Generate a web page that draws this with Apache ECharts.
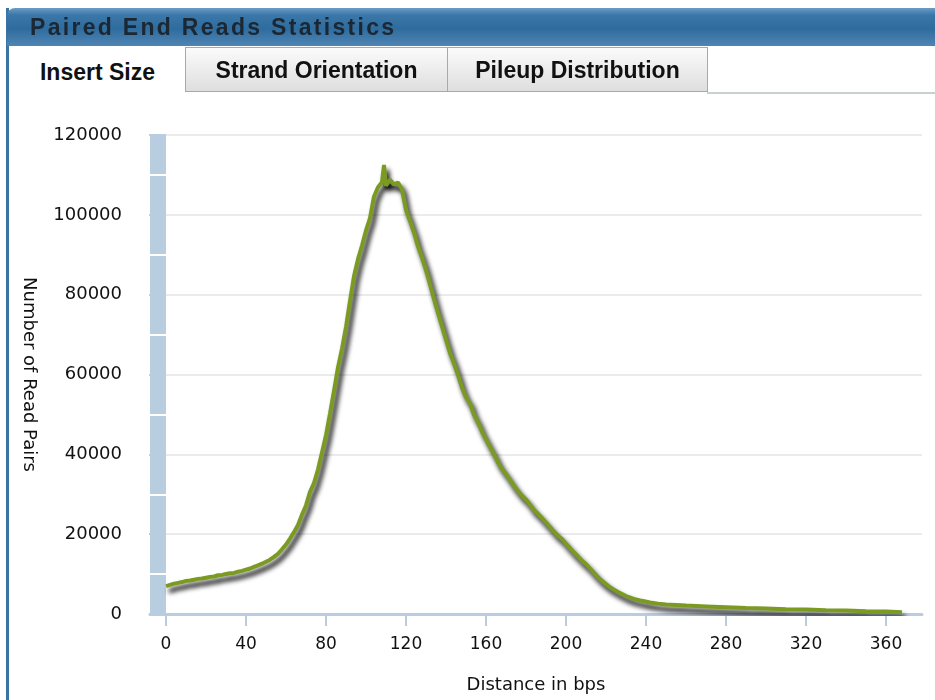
<!DOCTYPE html>
<html>
<head>
<meta charset="utf-8">
<title>Paired End Reads Statistics</title>
<script src="https://cdn.jsdelivr.net/npm/echarts@6.0.0/dist/echarts.min.js"></script>
<style>
  body { margin: 0; background: #fff; }
  #wrap { position: relative; width: 935px; height: 700px; overflow: hidden; font-family: "Liberation Sans", Arial, sans-serif; }
  #chart { position: absolute; left: 0; top: 0; width: 935px; height: 700px; }
  .bar-left { position: absolute; left: 6px; top: 8px; width: 3px; height: 692px; background: #3a74a4; }
  .header {
    position: absolute; left: 7px; top: 8px; width: 928px; height: 38px;
    border-top-left-radius: 8px;
    background: linear-gradient(#6c9cc6 0%, #3b78a9 18%, #2f6c9e 55%, #4f85b4 100%);
  }
  .header span {
    position: absolute; left: 23px; top: 0; line-height: 38px;
    font-size: 23px; font-weight: bold; letter-spacing: 2.3px; color: #1b2733;
  }
  .tab {
    position: absolute; top: 47px; height: 45px; box-sizing: border-box;
    font-size: 23px; font-weight: bold; color: #111; text-align: center; line-height: 44px;
  }
  .tab.on { left: 10px; width: 175px; background: #fff; line-height: 50px; }
  .tab.off {
    border: 1px solid #a9a9a9;
    background: linear-gradient(#fbfbfb, #dedede);
  }
  .tabline { position: absolute; left: 707px; top: 92px; width: 228px; height: 2px; background: #c8d1d1; }
</style>
</head>
<body>
<div id="wrap">
  <div id="chart"></div>
  <div class="bar-left"></div>
  <div class="header"><span>Paired End Reads Statistics</span></div>
  <div class="tab on">Insert Size</div>
  <div class="tab off" style="left:185px;width:263px;">Strand Orientation</div>
  <div class="tab off" style="left:447px;width:261px;">Pileup Distribution</div>
  <div class="tabline"></div>
</div>
<script>
// 插入片段长度 (bp)
var distance = [
  0, 2, 4, 6, 8, 10, 12, 14, 16, 18, 20, 22, 24, 26, 28, 30, 32, 34, 36, 38,
  40, 42, 44, 46, 48, 50, 52, 54, 56, 58, 60, 62, 64, 66, 68, 70, 72, 74, 76, 78,
  80, 82, 84, 86, 88, 90, 92, 94, 96, 98, 100, 102, 104, 106, 108, 109, 110, 112, 114, 116,
  118, 120, 122, 124, 126, 128, 130, 132, 134, 136, 138, 140, 142, 144, 146, 148, 150, 152, 154, 156,
  158, 160, 162, 164, 166, 168, 170, 172, 174, 176, 178, 180, 182, 184, 186, 188, 190, 192, 194, 196,
  198, 200, 202, 204, 206, 208, 210, 212, 214, 216, 218, 220, 222, 224, 226, 228, 230, 234, 238, 242,
  246, 250, 260, 270, 280, 290, 300, 310, 320, 330, 340, 350, 360, 368
];

// 每个长度对应的 read pair 数
var readPairs = [
  7000, 7300, 7600, 7800, 8000, 8300, 8400, 8600, 8800, 8900, 9100, 9300, 9400, 9700, 9800, 10000, 10200, 10300, 10600, 10800,
  11100, 11400, 11800, 12200, 12600, 13100, 13600, 14300, 15100, 16200, 17400, 18900, 20500, 22300, 24900, 27200, 30600, 32800, 36200, 40500,
  44800, 50200, 55900, 61800, 66500, 71900, 78400, 84600, 88900, 92300, 96100, 99200, 104600, 106900, 108200, 112500, 107300, 108800, 107600, 108100,
  106400, 101200, 98500, 95600, 92100, 89300, 86200, 82600, 78900, 75400, 72100, 68700, 65400, 62800, 59900, 56700, 54300, 52800, 49900, 48100,
  45700, 43800, 41900, 40100, 38000, 36400, 35100, 33600, 32100, 30800, 29600, 28700, 27400, 26000, 25100, 24000, 22900, 21800, 20600, 19600,
  18800, 17600, 16500, 15400, 14400, 13300, 12500, 11400, 10300, 9200, 8300, 7500, 6700, 6100, 5500, 5000, 4500, 3800, 3300, 2900,
  2600, 2400, 2100, 1900, 1700, 1500, 1400, 1200, 1100, 950, 850, 700, 600, 450
];

var xTicks = [0, 40, 80, 120, 160, 200, 240, 280, 320, 360];
// 左侧蓝色竖条上的白色分隔
var barBreaks = [10000, 30000, 50000, 70000, 90000, 110000];

var axisBlue = '#b9cce0';
var labelFont = 'DejaVu Sans';

var myChart = echarts.init(document.getElementById('chart'));
let option = {
  animation: false,
  grid: {
    left: 150,
    right: 13,
    top: 135,
    bottom: 86,
    containLabel: false,
  },
  xAxis: {
    type: 'value',
    min: -8,
    max: 378,
    name: 'Distance in bps',
    nameLocation: 'middle',
    nameGap: 62,
    nameTextStyle: { color: '#111', fontSize: 18, fontFamily: labelFont },
    axisLine: { show: true, lineStyle: { color: axisBlue, width: 3 } },
    axisTick: { show: true, customValues: xTicks, length: 12, lineStyle: { color: axisBlue, width: 2 } },
    axisLabel: { customValues: xTicks, margin: 22, color: '#111', fontSize: 17, fontFamily: labelFont },
    splitLine: { show: false },
  },
  yAxis: [
    {
      type: 'value',
      min: 0,
      max: 120000,
      interval: 20000,
      name: 'Number of Read Pairs',
      nameLocation: 'middle',
      nameRotate: -90,
      nameGap: 112,
      nameTextStyle: { color: '#111', fontSize: 18, fontFamily: labelFont },
      axisLine: { show: false },
      axisTick: { show: true, length: 17, lineStyle: { color: axisBlue, width: 2 } },
      axisLabel: {
        margin: 28, color: '#111', fontSize: 18, fontFamily: labelFont,
        formatter: function (v) { return String(v); },
      },
      splitLine: { show: true, lineStyle: { color: '#ebebeb', width: 2 } },
    },
    {
      type: 'value',
      min: 0,
      max: 120000,
      position: 'left',
      z: 10,
      axisLine: { show: false },
      axisLabel: { show: false },
      splitLine: { show: false },
      axisTick: { show: true, inside: true, length: 16, customValues: barBreaks, lineStyle: { color: '#fff', width: 2 } },
    },
  ],
  series: [
    {
      name: 'Insert Size',
      type: 'line',
      showSymbol: false,
      symbol: 'none',
      data: distance.map(function (d, i) { return [d, readPairs[i]]; }),
      lineStyle: {
        color: '#7a9a22',
        width: 4,
        shadowColor: 'rgba(0,0,0,1)',
        shadowBlur: 5,
        shadowOffsetX: 3,
        shadowOffsetY: 5,
      },
      markArea: {
        silent: true,
        itemStyle: { color: '#b9cde0', opacity: 1 },
        data: [[{ xAxis: -8, yAxis: 0 }, { xAxis: 0, yAxis: 120000 }]],
      },
    },
  ],
};
myChart.setOption(option);
</script>
</body>
</html>
